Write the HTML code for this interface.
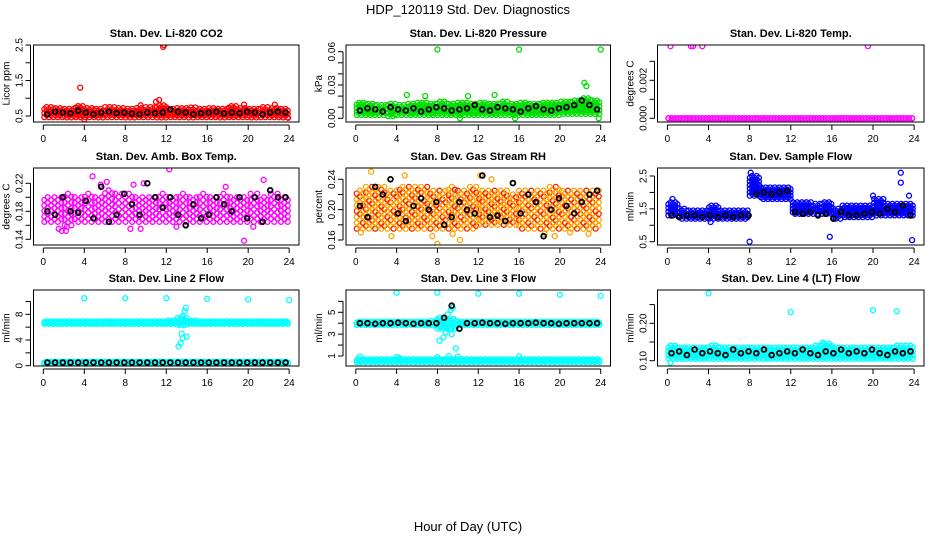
<!DOCTYPE html>
<html><head><meta charset="utf-8">
<style>
body{margin:0;background:#fff;}
svg{display:block;font-family:"Liberation Sans",Arial,sans-serif;}
</style></head>
<body>
<svg id="c" width="936" height="540" viewBox="0 0 936 540">
<text x="468" y="14" text-anchor="middle" font-size="13">HDP_120119  Std. Dev. Diagnostics</text>
<text x="468" y="531" text-anchor="middle" font-size="13">Hour of Day (UTC)</text>
</svg>
<script>
// ---- data ----
const hourTicks=[0,4,8,12,16,20,24];
const co2Lo=[0.47,0.47,0.46,0.47,0.47,0.46,0.47,0.47,0.46,0.47,0.47,0.46,0.47,0.47,0.46,0.47,0.47,0.46,0.47,0.47,0.46,0.47,0.47,0.46];
const co2Hi=[0.75,0.72,0.7,0.78,0.72,0.7,0.75,0.72,0.7,0.72,0.75,0.8,0.7,0.72,0.74,0.7,0.72,0.7,0.78,0.72,0.7,0.75,0.72,0.7];
const co2Out=[[3.6,1.3],[11.7,2.45],[11.8,2.5],[11.0,0.9],[11.3,0.95],[4.0,0.4],[23.9,0.45],[9.5,0.8],[19.6,0.82],[22.6,0.82]];
const co2Black=[0.55,0.62,0.6,0.58,0.65,0.6,0.55,0.6,0.62,0.58,0.6,0.57,0.55,0.6,0.58,0.6,0.68,0.62,0.6,0.55,0.58,0.6,0.62,0.57,0.6,0.58,0.62,0.6,0.55,0.6,0.62,0.6];
const presLo=[0.003,0.003,0.003,0.002,0.003,0.003,0.003,0.003,0.003,0.003,0.003,0.003,0.003,0.003,0.003,0.003,0.003,0.003,0.003,0.003,0.004,0.004,0.004,0.004];
const presHi=[0.014,0.013,0.012,0.013,0.012,0.013,0.014,0.013,0.015,0.013,0.014,0.013,0.014,0.013,0.015,0.013,0.014,0.013,0.014,0.014,0.015,0.016,0.018,0.016];
const presOut=[[8,0.062],[16,0.062],[24,0.062],[22.4,0.032],[22.6,0.029],[23.8,0.0],[10.2,0.0],[15.6,0.0],[5.0,0.021],[6.8,0.02],[11.0,0.02],[13.6,0.021]];
const presBlack=[0.007,0.009,0.008,0.006,0.01,0.008,0.007,0.009,0.006,0.008,0.01,0.009,0.007,0.008,0.009,0.012,0.008,0.007,0.01,0.009,0.008,0.006,0.009,0.011,0.008,0.007,0.009,0.01,0.012,0.016,0.012,0.008];
const tempLo=[0,0,0,0,0,0,0,0,0,0,0,0,0,0,0,0,0,0,0,0,0,0,0,0];
const tempHi=[0,0,0,0,0,0,0,0,0,0,0,0,0,0,0,0,0,0,0,0,0,0,0,0];
const tempOut=[[0.3,0.0038],[2.3,0.0038],[2.5,0.0038],[3.4,0.0038],[19.5,0.0038]];
const tempBlack=[];
const ambLo=[0.165,0.165,0.16,0.165,0.165,0.165,0.165,0.165,0.165,0.165,0.165,0.165,0.165,0.165,0.165,0.165,0.165,0.165,0.165,0.165,0.165,0.165,0.165,0.165];
const ambHi=[0.2,0.2,0.205,0.2,0.205,0.2,0.21,0.205,0.205,0.2,0.2,0.205,0.2,0.205,0.2,0.205,0.2,0.205,0.2,0.2,0.205,0.2,0.205,0.2];
const ambOut=[[1.5,0.155],[1.8,0.152],[2.2,0.152],[4.8,0.23],[5.6,0.218],[6.2,0.222],[8.5,0.155],[9.5,0.155],[9.8,0.22],[12.3,0.24],[13.0,0.158],[19.6,0.138],[20.5,0.158],[21.5,0.225],[17.8,0.215],[2.3,0.158],[8.8,0.218]];
const ambBlack=[0.18,0.175,0.2,0.18,0.178,0.195,0.17,0.215,0.165,0.175,0.205,0.19,0.175,0.22,0.2,0.185,0.2,0.175,0.16,0.19,0.17,0.175,0.2,0.19,0.18,0.2,0.17,0.2,0.165,0.21,0.2,0.2];
const rhLo=[0.175,0.175,0.175,0.175,0.175,0.175,0.175,0.175,0.175,0.175,0.175,0.175,0.18,0.18,0.18,0.18,0.175,0.175,0.175,0.175,0.175,0.175,0.175,0.175];
const rhHi=[0.225,0.23,0.23,0.225,0.23,0.23,0.23,0.225,0.225,0.23,0.225,0.23,0.225,0.225,0.225,0.22,0.225,0.225,0.225,0.23,0.225,0.225,0.225,0.225];
const rhOut=[[1.5,0.25],[0.5,0.17],[3.5,0.165],[4.8,0.245],[7.5,0.165],[9.5,0.168],[10.2,0.16],[12.2,0.245],[13.3,0.24],[18.5,0.168],[19.5,0.165],[22.8,0.168],[8.0,0.155],[21.0,0.17]];
const rhBlack=[0.205,0.19,0.23,0.22,0.24,0.195,0.185,0.205,0.215,0.2,0.21,0.18,0.19,0.21,0.2,0.195,0.245,0.19,0.192,0.185,0.235,0.195,0.22,0.21,0.165,0.2,0.215,0.205,0.195,0.21,0.22,0.225];
const sfLo=[1.3,1.2,1.2,1.2,1.2,1.2,1.2,1.2,1.9,1.8,1.8,1.8,1.35,1.35,1.35,1.35,1.2,1.25,1.25,1.25,1.3,1.3,1.3,1.3];
const sfHi=[1.7,1.5,1.45,1.45,1.6,1.45,1.45,1.45,2.5,2.15,2.15,2.15,1.7,1.7,1.65,1.7,1.5,1.6,1.6,1.6,1.8,1.65,1.65,1.65];
const sfOut=[[8,0.5],[15.8,0.65],[23.8,0.55],[22.7,2.6],[22.7,2.3],[8.1,2.6],[0.5,1.8],[23.5,1.9],[20.0,1.9],[4.2,1.1]];
const sfBlack=[1.3,1.25,1.3,1.3,1.25,1.3,1.25,1.3,1.25,1.3,1.3,1.95,2.0,1.95,2.0,2.05,1.4,1.35,1.4,1.3,1.35,1.2,1.4,1.3,1.3,1.35,1.4,1.35,1.5,1.4,1.6,1.3];
const l2Lo=[6.5,6.5,6.5,6.5,6.5,6.5,6.5,6.5,6.5,6.5,6.5,6.5,6.5,6.3,6.5,6.5,6.5,6.5,6.5,6.5,6.5,6.5,6.5,6.5];
const l2Hi=[6.9,6.9,6.9,6.9,6.9,6.9,6.9,6.9,6.9,6.9,6.9,6.9,7.0,7.4,7.0,6.9,6.9,6.9,6.9,6.9,6.9,6.9,6.9,6.9];
const l2Lo2=[0.3,0.3,0.3,0.3,0.3,0.3,0.3,0.3,0.3,0.3,0.3,0.3,0.3,0.3,0.3,0.3,0.3,0.3,0.3,0.3,0.3,0.3,0.3,0.3];
const l2Hi2=[0.6,0.6,0.6,0.6,0.6,0.6,0.6,0.6,0.6,0.6,0.6,0.6,0.6,0.6,0.6,0.6,0.6,0.6,0.6,0.6,0.6,0.6,0.6,0.6];
const l2Out=[[4,10.5],[8,10.5],[12,10.5],[16,10.4],[20,10.3],[24,10.2],[13.2,3.0],[13.4,3.5],[13.6,4.3],[13.5,5.0],[13.8,8.5],[13.9,9.0],[13.6,7.7],[14.0,4.5]];
const l2Black=[0.5,0.5,0.5,0.5,0.5,0.5,0.5,0.5,0.5,0.5,0.5,0.5,0.5,0.5,0.5,0.5,0.5,0.5,0.5,0.5,0.5,0.5,0.5,0.5,0.5,0.5,0.5,0.5,0.5,0.5,0.5,0.5];
const l3Lo=[3.85,3.85,3.85,3.85,3.85,3.85,3.85,3.8,3.5,3.5,3.85,3.85,3.85,3.85,3.85,3.85,3.85,3.85,3.85,3.85,3.85,3.85,3.85,3.85];
const l3Hi=[4.15,4.15,4.15,4.15,4.15,4.15,4.15,4.2,4.5,4.4,4.15,4.15,4.15,4.15,4.15,4.15,4.15,4.15,4.15,4.15,4.15,4.15,4.15,4.15];
const l3Lo2=[0.45,0.45,0.45,0.45,0.45,0.45,0.45,0.45,0.45,0.45,0.45,0.45,0.45,0.45,0.45,0.45,0.45,0.45,0.45,0.45,0.45,0.45,0.45,0.45];
const l3Hi2=[0.7,0.7,0.7,0.7,0.7,0.7,0.7,0.7,0.7,0.7,0.7,0.7,0.7,0.7,0.7,0.7,0.7,0.7,0.7,0.7,0.7,0.7,0.7,0.7];
const l3Out=[[4,6.8],[8,6.8],[12,6.7],[16,6.7],[20,6.6],[24,6.5],[8.2,2.4],[8.6,2.7],[8.8,3.2],[9.0,4.8],[9.3,5.2],[9.5,5.4],[9.2,3.5],[9.8,1.7],[8.8,4.4],[9.4,3.0],[0.4,0.95],[4.0,0.9],[8.0,0.9],[10.0,0.95],[16.0,0.95],[4.3,0.8],[9.1,1.0]];
const l3Black=[4.0,4.0,3.95,4.0,4.0,4.05,4.0,3.95,4.0,4.0,4.0,4.5,5.6,3.5,4.0,4.0,4.05,4.0,4.0,3.95,4.0,4.0,4.0,4.05,4.0,4.0,3.95,4.0,4.0,4.0,4.0,4.0];
const l4Lo=[0.105,0.105,0.105,0.105,0.105,0.105,0.105,0.105,0.105,0.105,0.105,0.105,0.105,0.105,0.105,0.105,0.105,0.105,0.105,0.105,0.105,0.105,0.105,0.105];
const l4Hi=[0.14,0.135,0.135,0.135,0.14,0.135,0.135,0.135,0.135,0.135,0.135,0.135,0.135,0.135,0.14,0.145,0.135,0.135,0.135,0.135,0.135,0.135,0.14,0.14];
const l4Out=[[4,0.28],[12,0.23],[20,0.235],[22.3,0.232],[0.3,0.095],[15.1,0.148]];
const l4Black=[0.12,0.125,0.115,0.13,0.12,0.125,0.12,0.115,0.13,0.12,0.125,0.12,0.13,0.115,0.12,0.125,0.12,0.13,0.12,0.115,0.125,0.12,0.13,0.12,0.125,0.12,0.13,0.12,0.115,0.125,0.12,0.125];

// ---- layout ----
const cols=[[33.5,299],[346,610.5],[657.5,924]];
const rows=[[45,122],[168,245],[290,366]];
const panels=[
 {name:'co2',title:'Stan. Dev. Li-820 CO2',ylab:'Licor ppm',c:0,r:0,cal:[0.5,116,2.5,45],ticks:[0.5,1,1.5,2,2.5],labs:['0.5','','1.5','','2.5'],col:'#ff0000',dx:0.22,dy:4,lo:co2Lo,hi:co2Hi,out:co2Out,blk:co2Black},
 {name:'pressure',title:'Stan. Dev. Li-820 Pressure',ylab:'kPa',c:1,r:0,cal:[0,118.3,0.06,51.7],ticks:[0,0.01,0.02,0.03,0.04,0.05,0.06],labs:['0.00','','','0.03','','','0.06'],col:'#00dd00',dx:0.22,dy:4,lo:presLo,hi:presHi,out:presOut,blk:presBlack},
 {name:'temp',title:'Stan. Dev. Li-820 Temp.',ylab:'degrees C',c:2,r:0,cal:[0,118.3,0.002,80.3],ticks:[0,0.001,0.002,0.003],labs:['0.000','','0.002',''],col:'#ff00ff',dx:0.3,dy:4,lo:tempLo,hi:tempHi,out:tempOut,blk:tempBlack},
 {name:'amb-temp',title:'Stan. Dev. Amb. Box Temp.',ylab:'degrees C',c:0,r:1,cal:[0.14,239.3,0.22,183.3],ticks:[0.14,0.16,0.18,0.2,0.22],labs:['0.14','','0.18','','0.22'],col:'#ff00ff',dx:0.33,dy:6.5,lo:ambLo,hi:ambHi,out:ambOut,blk:ambBlack},
 {name:'rh',title:'Stan. Dev. Gas Stream RH',ylab:'percent',c:1,r:1,cal:[0.16,240,0.24,179.3],ticks:[0.16,0.18,0.2,0.22,0.24],labs:['0.16','','0.20','','0.24'],col:'#ffa500',alt:'#ff2000',dx:0.3,dy:6,lo:rhLo,hi:rhHi,out:rhOut,blk:rhBlack},
 {name:'sample-flow',title:'Stan. Dev. Sample Flow',ylab:'ml/min',c:2,r:1,cal:[0.5,241.7,2.5,176],ticks:[0.5,1,1.5,2,2.5],labs:['0.5','','1.5','','2.5'],col:'#0000ff',dx:0.22,dy:4,lo:sfLo,hi:sfHi,out:sfOut,blk:sfBlack},
 {name:'line2-flow',title:'Stan. Dev. Line 2 Flow',ylab:'ml/min',c:0,r:2,cal:[0,365.7,8,314.3],ticks:[0,2,4,6,8,10],labs:['0','','4','','8',''],col:'#00ffff',dx:0.22,dy:4,lo:l2Lo,hi:l2Hi,lo2:l2Lo2,hi2:l2Hi2,out:l2Out,blk:l2Black},
 {name:'line3-flow',title:'Stan. Dev. Line 3 Flow',ylab:'ml/min',c:1,r:2,cal:[1,356,5,312.3],ticks:[1,2,3,4,5,6],labs:['1','','3','','5',''],col:'#00ffff',dx:0.22,dy:4,lo:l3Lo,hi:l3Hi,lo2:l3Lo2,hi2:l3Hi2,out:l3Out,blk:l3Black},
 {name:'line4-flow',title:'Stan. Dev. Line 4 (LT) Flow',ylab:'ml/min',c:2,r:2,cal:[0.1,360.7,0.2,323.3],ticks:[0.1,0.15,0.2,0.25],labs:['0.10','','0.20',''],col:'#00ffff',dx:0.22,dy:4,lo:l4Lo,hi:l4Hi,out:l4Out,blk:l4Black}
];
const NS='http://www.w3.org/2000/svg';
const svg=document.getElementById('c');
function mk(tag,attrs,parent){const e=document.createElementNS(NS,tag);for(const k in attrs)e.setAttribute(k,attrs[k]);parent.appendChild(e);return e;}
panels.forEach(p=>{
  const [x0,x1]=cols[p.c],[y0,y1]=rows[p.r];
  const xs=h=>x0+(h+0.96)/25.92*(x1-x0);
  const ys=v=>p.cal[1]+(v-p.cal[0])*(p.cal[3]-p.cal[1])/(p.cal[2]-p.cal[0]);
  const g=mk('g',{},svg);
  
  
  const clip=mk('clipPath',{id:'cl'+p.name},g);
  mk('rect',{x:x0,y:y0,width:x1-x0,height:y1-y0},clip);
  const t=mk('text',{x:(x0+x1)/2,y:y0-8,'text-anchor':'middle','font-size':11,'font-weight':'bold'},g);
  t.textContent=p.title;
  
  
  const yl=mk('text',{x:0,y:0,'text-anchor':'middle','font-size':10,transform:`translate(${x0-24},${(y0+y1)/2}) rotate(-90)`},g);
  yl.textContent=p.ylab;
  
  
  const m=mk('g',{'clip-path':`url(#cl${p.name})`,fill:'none','stroke-width':1.3},g);
  
  
  const dot=(h,v,col,r)=>{mk('circle',{cx:xs(h).toFixed(1),cy:ys(v).toFixed(1),r:r||2.5,stroke:col},m);};
  const band=(lo,hi)=>{
    let k=0;
    for(let h=0.1;h<24;h+=p.dx){
      const i=Math.min(23,Math.floor(h));
      const yA=ys(lo[i]),yB=ys(hi[i]);
      const n=Math.max(1,Math.round(Math.abs(yA-yB)/p.dy));
      for(let j=0;j<=n;j++){
        const v=lo[i]+(hi[i]-lo[i])*((j+(k%2)*0.5)/(n+0.5));
        dot(h,v,(p.alt&&(j+k)%3==0)?p.alt:p.col);
      }
      k++;
    }
  };
  band(p.lo,p.hi);
  if(p.lo2)band(p.lo2,p.hi2);
  p.out.forEach(o=>dot(o[0],o[1],p.col));
  const mb=mk('g',{'clip-path':`url(#cl${p.name})`,fill:'none','stroke-width':1.8},g);
  
  
  p.blk.forEach((v,i)=>{mk('circle',{cx:xs(i*0.75+0.4).toFixed(1),cy:ys(v).toFixed(1),r:2.4,stroke:'#000'},mb);});
  const b=mk('rect',{x:x0,y:y0,width:x1-x0,height:y1-y0,fill:'none',stroke:'#000','stroke-width':1},g);
  
  
  const xa=mk('g',{stroke:'#000','stroke-width':1},g);
  
  
  mk('line',{x1:xs(0),x2:xs(24),y1:y1+3,y2:y1+3},xa);
  hourTicks.forEach(h=>{
    mk('line',{x1:xs(h),x2:xs(h),y1:y1+3,y2:y1+8},xa);
    const tl=mk('text',{x:xs(h),y:y1+20,'text-anchor':'middle','font-size':10,stroke:'none',fill:'#000'},xa);
    tl.textContent=h;
  });
  const ya=mk('g',{stroke:'#000','stroke-width':1},g);
  
  
  mk('line',{x1:x0-3,x2:x0-3,y1:ys(p.ticks[0]),y2:ys(p.ticks[p.ticks.length-1])},ya);
  p.ticks.forEach((v,i)=>{
    mk('line',{x1:x0-3,x2:x0-8,y1:ys(v),y2:ys(v)},ya);
    if(p.labs[i]){
      const tl=mk('text',{x:0,y:0,'text-anchor':'middle','font-size':10,stroke:'none',fill:'#000',transform:`translate(${x0-11},${ys(v)}) rotate(-90)`},ya);
      tl.textContent=p.labs[i];
    }
  });
});
</script>
</body></html>
